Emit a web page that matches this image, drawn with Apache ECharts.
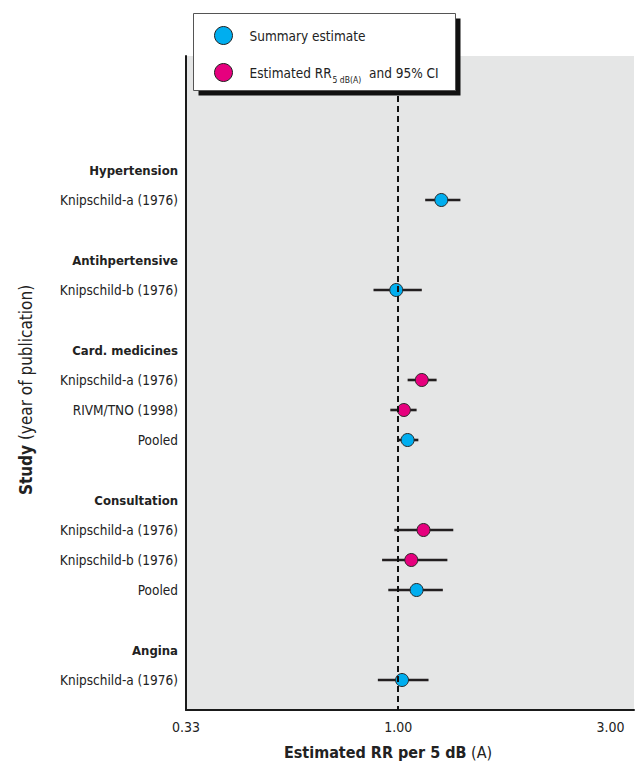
<!DOCTYPE html>
<html>
<head>
<meta charset="utf-8">
<script src="https://cdn.jsdelivr.net/npm/echarts@6/dist/echarts.min.js"></script>
<style>
  html, body { margin: 0; padding: 0; background: #ffffff; }
  #chart { width: 638px; height: 766px; }
</style>
</head>
<body>
<div id="chart"></div>
<script>
// Outcome groups, in display order
const groups = ['Hypertension', 'Antihpertensive', 'Card. medicines', 'Consultation', 'Angina'];

// Individual studies / pooled estimates and the group each belongs to
const studies = [
  'Knipschild-a (1976)',
  'Knipschild-b (1976)',
  'Knipschild-a (1976)', 'RIVM/TNO (1998)', 'Pooled',
  'Knipschild-a (1976)', 'Knipschild-b (1976)', 'Pooled',
  'Knipschild-a (1976)'
];
const studyGroup = [0, 1, 2, 2, 2, 3, 3, 3, 4];

// Relative risk per 5 dB(A) with 95% confidence limits
const rr     = [1.25, 0.99, 1.13, 1.03, 1.05, 1.14, 1.07, 1.10, 1.02];
const ciLow  = [1.15, 0.88, 1.05, 0.96, 1.00, 0.98, 0.92, 0.95, 0.90];
const ciHigh = [1.38, 1.13, 1.22, 1.10, 1.11, 1.33, 1.29, 1.26, 1.17];

// 'summary' = summary estimate, 'study' = single-study estimate
const estimateType = ['summary', 'summary', 'study', 'study', 'summary', 'study', 'study', 'summary', 'summary'];

// Series names
const summaryName = 'Summary estimate';
const studyName = 'Estimated RR';

const FONT = "'Liberation Sans Narrow', 'DejaVu Sans Condensed', 'Liberation Sans', sans-serif";
const BLUE = '#00aeef';
const PINK = '#e6007e';

// Row layout: group header, its studies, then a blank row between groups
const rowLabels = {};
const studyRow = [];
let r = 0;
groups.forEach((g, gi) => {
  rowLabels[r] = { text: g, header: true };
  r++;
  studies.forEach((s, si) => {
    if (studyGroup[si] === gi) {
      rowLabels[r] = { text: s, header: false };
      studyRow[si] = r;
      r++;
    }
  });
  r++;
});
const labelRows = Object.keys(rowLabels).map(Number);

const ciData = studies.map((s, i) => [ciLow[i], ciHigh[i], studyRow[i]]);
const summaryData = [];
const studyData = [];
studies.forEach((s, i) => {
  (estimateType[i] === 'summary' ? summaryData : studyData).push([rr[i], studyRow[i]]);
});

const chart = echarts.init(document.getElementById('chart'), null, { renderer: 'svg' });

// Legend box drawn above the plot (with a solid drop shadow)
const LZ = 100;
const legendBox = {
  type: 'group',
  left: 193,
  top: 13,
  z: LZ,
  children: [
    { type: 'rect', z: LZ, shape: { x: 5, y: 5, width: 262, height: 77 }, style: { fill: '#111' } },
    { type: 'rect', z: LZ + 1, shape: { x: 0, y: 0, width: 262, height: 77 }, style: { fill: '#fff', stroke: '#555', lineWidth: 1 } },
    { type: 'circle', z: LZ + 2, shape: { cx: 30, cy: 22, r: 9 }, style: { fill: BLUE, stroke: '#222', lineWidth: 1 } },
    { type: 'circle', z: LZ + 2, shape: { cx: 30, cy: 59, r: 9 }, style: { fill: PINK, stroke: '#222', lineWidth: 1 } },
    {
      type: 'text', z: LZ + 2, x: 56, y: 22,
      style: { text: summaryName, fontSize: 13.5, fontFamily: FONT, fill: '#222', verticalAlign: 'middle' }
    },
    {
      type: 'text', z: LZ + 2, x: 56, y: 59,
      style: {
        text: '{a|' + studyName + '}{sub|5 dB(A)}{a| and 95% CI}',
        fontFamily: FONT, fill: '#222', verticalAlign: 'middle',
        rich: {
          a: { fontSize: 13.5, fontFamily: FONT, fill: '#222', lineHeight: 26, verticalAlign: 'middle' },
          sub: { fontSize: 8.5, fontFamily: FONT, fill: '#222', lineHeight: 26, verticalAlign: 'bottom', padding: [0, 4, 1, 1] }
        }
      }
    }
  ]
};

chart.setOption({
  animation: false,
  textStyle: { fontFamily: FONT },
  grid: {
    left: 186, right: 4, top: 56, bottom: 56,
    show: true, backgroundColor: '#e5e6e6', borderWidth: 0
  },
  xAxis: {
    type: 'log',
    logBase: 3,
    min: 1 / 3,
    max: 3.39,
    axisLine: { show: true, onZero: false, lineStyle: { color: '#1a1a1a', width: 2 } },
    axisTick: { show: false },
    splitLine: { show: false },
    axisLabel: {
      showMinLabel: true,
      showMaxLabel: false,
      margin: 10,
      fontSize: 14,
      color: '#222',
      fontFamily: FONT,
      formatter: v => Number(v).toFixed(2)
    },
    name: '{b|Estimated RR per 5 dB} (A)',
    nameLocation: 'middle',
    nameGap: 34,
    nameTextStyle: {
      fontSize: 16, color: '#222', fontFamily: FONT,
      padding: [0, 44, 0, 0],
      rich: { b: { fontSize: 16, fontWeight: 'bold', color: '#222', fontFamily: FONT } }
    }
  },
  yAxis: {
    type: 'value',
    inverse: true,
    min: -3.8,
    max: 18,
    axisLine: { show: true, onZero: false, lineStyle: { color: '#1a1a1a', width: 2 } },
    axisTick: { show: false },
    splitLine: { show: false },
    axisLabel: {
      customValues: labelRows,
      margin: 8,
      fontFamily: FONT,
      formatter: v => {
        const lab = rowLabels[Math.round(v)];
        if (!lab) return '';
        return lab.header ? '{h|' + lab.text + '}' : '{s|' + lab.text + '}';
      },
      rich: {
        h: { fontSize: 13, fontWeight: 'bold', color: '#222', fontFamily: FONT },
        s: { fontSize: 13.5, color: '#222', fontFamily: FONT }
      }
    },
    name: '{b|Study} (year of publication)',
    nameLocation: 'middle',
    nameRotate: 90,
    nameGap: 152,
    nameTextStyle: {
      fontSize: 17, color: '#222', fontFamily: FONT,
      padding: [0, 14, 0, 0],
      rich: { b: { fontSize: 17, fontWeight: 'bold', color: '#222', fontFamily: FONT } }
    }
  },
  series: [
    {
      // reference line at RR = 1
      type: 'line',
      data: [],
      z: 3,
      silent: true,
      markLine: {
        symbol: ['none', 'none'],
        label: { show: false },
        lineStyle: { color: '#111', width: 2, type: [6, 4] },
        data: [{ xAxis: 1 }]
      }
    },
    {
      // confidence intervals
      type: 'custom',
      z: 2,
      data: ciData,
      encode: { x: [0, 1], y: 2 },
      renderItem: (params, api) => {
        const p0 = api.coord([api.value(0), api.value(2)]);
        const p1 = api.coord([api.value(1), api.value(2)]);
        return {
          type: 'line',
          shape: { x1: p0[0], y1: p0[1], x2: p1[0], y2: p1[1] },
          style: { stroke: '#231f20', lineWidth: 2.6 }
        };
      }
    },
    {
      name: summaryName,
      type: 'scatter',
      z: 4,
      data: summaryData,
      symbolSize: 13,
      itemStyle: { color: BLUE, borderColor: '#2a2a2a', borderWidth: 1, opacity: 1 }
    },
    {
      name: studyName,
      type: 'scatter',
      z: 4,
      data: studyData,
      symbolSize: 13,
      itemStyle: { color: PINK, borderColor: '#2a2a2a', borderWidth: 1, opacity: 1 }
    }
  ],
  graphic: [legendBox]
});
</script>
</body>
</html>
